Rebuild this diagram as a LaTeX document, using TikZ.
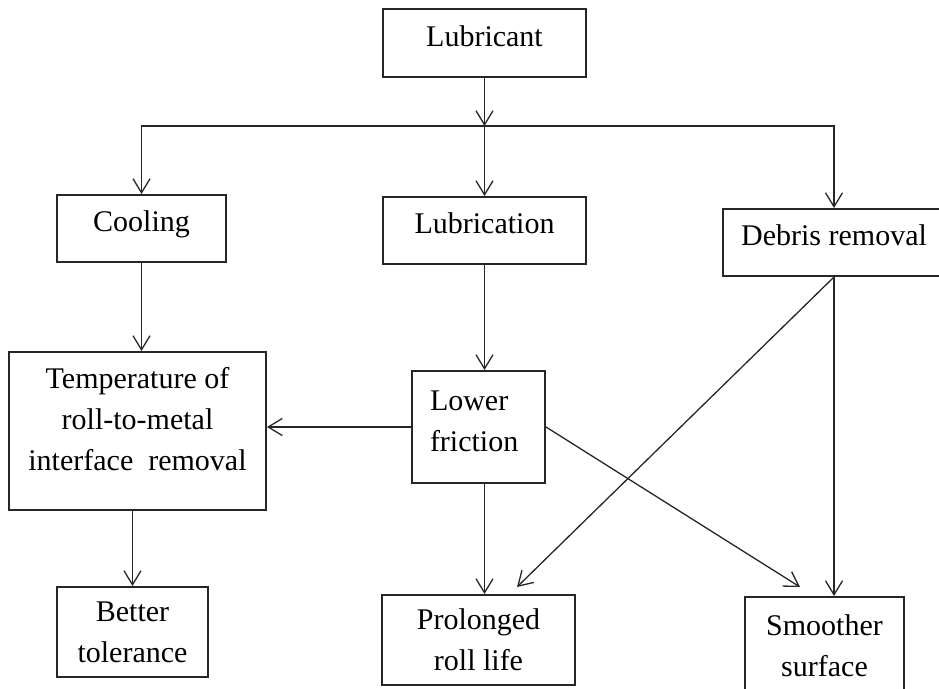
\documentclass[tikz,border=0pt]{standalone}
\usepackage{fontspec}
\setmainfont{Liberation Serif}
\usetikzlibrary{arrows.meta}
\tikzset{
  box/.style={draw=black!85, line width=2pt, inner sep=0pt,
    font=\fontsize{30}{41}\selectfont},
  oneline/.style={box, text height=21pt, text depth=15pt},
  flow/.style={draw=black!85, line width=1.3pt,
    -{Straight Barb[length=14pt,width=17pt]}},
}

\begin{document}
\begin{tikzpicture}[x=1pt, y=-1pt]
    \useasboundingbox (0,0) rectangle (939,688);
    \node[oneline, minimum width=203pt, minimum height=68pt] (lubricant) at (484.5,43) {Lubricant};
    \node[oneline, minimum width=169pt, minimum height=67pt] (cooling) at (141.5,228.5) {Cooling};
    \node[oneline, minimum width=203pt, minimum height=67pt] (lubrication) at (484.5,230.5) {Lubrication};
    \node[oneline, minimum width=222pt, minimum height=67pt] (debris) at (834,242.5) {Debris removal};
    \node[box, minimum width=257pt, minimum height=158pt, text width=240pt, align=flush center,
      text height=21pt, text depth=106.5pt] (temp) at (137.5,431)
      {Temperature of\\roll-to-metal\\interface\ \ removal};
    \node[box, minimum width=133pt, minimum height=112pt, text width=97pt, align=flush left,
      text height=21pt, text depth=55pt] (lowerfr) at (478.5,427) {Lower\\friction};
    \node[box, minimum width=151pt, minimum height=90pt, align=center] (better) at (132.5,632) {Better\\tolerance};
    \node[box, minimum width=193pt, minimum height=90pt, align=center] (prolonged) at (478.5,640) {Prolonged\\roll life};
    \node[box, minimum width=159pt, minimum height=98pt, align=center] (smoother) at (824.5,646) {Smoother\\surface};

    \coordinate (split) at (484.5,126);
    \coordinate (plend) at (517,587);
    \coordinate (smend) at (800,587);

    \draw[flow] (lubricant) -- (split);
    \draw[flow] (split) -| (cooling);
    \draw[flow] (split) -- (lubrication);
    \draw[flow] (split) -| (debris);
    \draw[flow] (cooling.south) -- (cooling.south |- temp.north);
    \draw[flow] (lubrication.south) -- (lubrication.south |- lowerfr.north);
    \draw[flow] (lowerfr.west) -- (lowerfr.west -| temp.east);
    \draw[flow] (better.north |- temp.south) -- (better.north);
    \draw[flow] (lubrication.south |- lowerfr.south) -- (lubrication.south |- prolonged.north);
    \draw[flow] (debris.south) -- (plend);
    \draw[flow] (lowerfr.east) -- (smend);
    \draw[flow] (debris.south) -- (debris.south |- smoother.north);
\end{tikzpicture}
\end{document}
